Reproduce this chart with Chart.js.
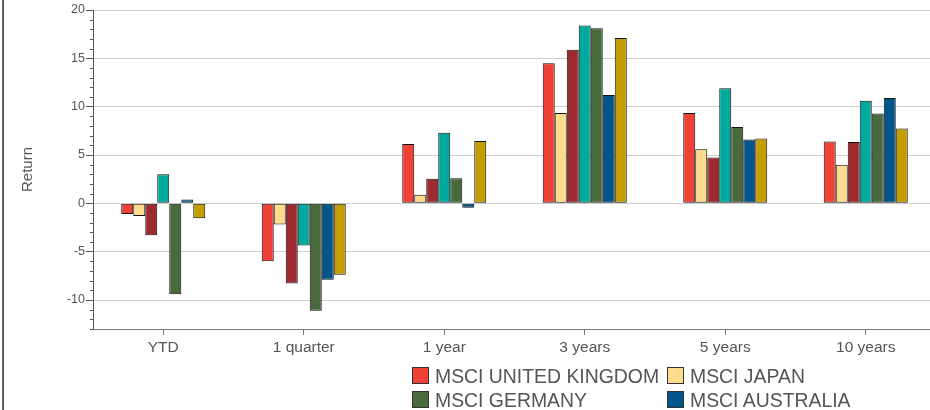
<!DOCTYPE html>
<html>
<head>
<meta charset="utf-8">
<script src="https://cdn.jsdelivr.net/npm/chart.js@4.4.1/dist/chart.umd.min.js"></script>
<style>
  html, body { margin: 0; padding: 0; background: #fff; overflow: hidden; width: 930px; height: 410px; }
  #wrap { position: absolute; left: 0; top: 0; width: 937px; height: 410px; }
  #edge { position: absolute; left: 2px; top: 0; width: 2px; height: 410px; background: #675d53; }
  #legend { position: absolute; left: 412px; top: 367px; width: 520px;
            font-family: "Liberation Sans", Arial, sans-serif; font-size: 19.4px; color: #555; }
  .item { position: absolute; height: 18px; line-height: 18px; white-space: nowrap; }
  .box { position: absolute; left: 0; top: 0; width: 15px; height: 15px; border: 1px solid #333; }
  .lbl { position: absolute; left: 23px; top: 0; }
</style>
</head>
<body>
<div id="edge"></div>
<div id="wrap"><canvas id="chart" width="937" height="410"></canvas></div>
<div id="legend"></div>
<script>
const categories = ['YTD', '1 quarter', '1 year', '3 years', '5 years', '10 years'];

const ukReturns        = [-1.1, -6.0, 6.15, 14.5, 9.35, 6.4];
const japanReturns     = [-1.3, -2.2, 0.9, 9.35, 5.6, 4.0];
const franceReturns    = [-3.3, -8.3, 2.55, 15.9, 4.75, 6.35];
const usaReturns       = [3.0, -4.35, 7.3, 18.4, 11.9, 10.6];
const germanyReturns   = [-9.4, -11.1, 2.6, 18.1, 7.9, 9.3];
const australiaReturns = [0.4, -7.9, -0.45, 11.2, 6.6, 10.9];
const europeReturns    = [-1.55, -7.4, 6.45, 17.1, 6.7, 7.75];

const yTicks = [-10, -5, 0, 5, 10, 15, 20];
const yMin = -13, yMax = 20;

const series = [
  { label: 'MSCI UNITED KINGDOM', data: ukReturns, color: '#EF4136' },
  { label: 'MSCI JAPAN', data: japanReturns, color: '#FFDB8C' },
  { label: 'MSCI FRANCE', data: franceReturns, color: '#9E2A2F' },
  { label: 'MSCI USA', data: usaReturns, color: '#00A99D' },
  { label: 'MSCI GERMANY', data: germanyReturns, color: '#486A3D' },
  { label: 'MSCI AUSTRALIA', data: australiaReturns, color: '#00558A' },
  { label: 'MSCI EUROPE', data: europeReturns, color: '#C29E00' }
];
// legend order as it shows below the chart (two columns)
const legendOrder = ['MSCI UNITED KINGDOM', 'MSCI JAPAN', 'MSCI GERMANY', 'MSCI AUSTRALIA',
                     'MSCI FRANCE', 'MSCI USA', 'MSCI EUROPE'];

const font = '"Liberation Sans", Arial, sans-serif';

// small ticks every 1 on the value axis
const minorTicks = {
  id: 'minorTicks',
  afterDraw(chart) {
    const y = chart.scales.y;
    const ctx = chart.ctx;
    ctx.save();
    ctx.strokeStyle = '#555';
    ctx.lineWidth = 1;
    for (let v = Math.ceil(yMin); v <= yMax; v++) {
      if (v % 5 === 0) continue;
      const py = Math.round(y.getPixelForValue(v)) + 0.5;
      ctx.beginPath();
      ctx.moveTo(y.right - 3, py);
      ctx.lineTo(y.right, py);
      ctx.stroke();
    }
    ctx.restore();
  }
};

const chart = new Chart(document.getElementById('chart'), {
  type: 'bar',
  data: {
    labels: categories,
    datasets: series.map(s => ({
      label: s.label,
      data: s.data,
      backgroundColor: s.color,
      borderColor: '#111',
      borderWidth: 1,
      borderSkipped: false,
      inflateAmount: 0,
      barPercentage: 1,
      categoryPercentage: 0.598
    }))
  },
  options: {
    responsive: false,
    animation: false,
    layout: { padding: { top: 10, right: 1, left: 0, bottom: 0 } },
    plugins: { legend: { display: false }, tooltip: { enabled: false } },
    scales: {
      x: {
        grid: { display: true, drawOnChartArea: false, offset: false, tickLength: 6, tickColor: '#777' },
        border: { display: true, color: '#777', width: 1 },
        ticks: { color: '#555', font: { family: font, size: 15.5 }, padding: 3, maxRotation: 0 },
        afterFit(scale) { scale.height = 81; }
      },
      y: {
        min: yMin,
        max: yMax,
        afterBuildTicks(scale) { scale.ticks = yTicks.map(v => ({ value: v })); },
        grid: { color: '#cfcfcf', lineWidth: 1, tickLength: 7, tickColor: '#555' },
        border: { display: true, color: '#555', width: 1 },
        ticks: { color: '#555', font: { family: font, size: 12.5 }, padding: 1 },
        title: { display: true, text: 'Return', color: '#555', font: { family: font, size: 15 }, padding: { top: 19, bottom: 0 } },
        afterFit(scale) { scale.width = 93; }
      }
    }
  },
  plugins: [minorTicks]
});

// legend below the chart, built from the datasets
const legendEl = document.getElementById('legend');
legendOrder.forEach((name, i) => {
  const s = series.find(d => d.label === name);
  const item = document.createElement('div');
  item.className = 'item';
  item.style.left = (i % 2) * 255 + 'px';
  item.style.top = Math.floor(i / 2) * 24 + 'px';
  item.innerHTML = '<span class="box" style="background:' + s.color + '"></span><span class="lbl">' + s.label + '</span>';
  legendEl.appendChild(item);
});
</script>
</body>
</html>
